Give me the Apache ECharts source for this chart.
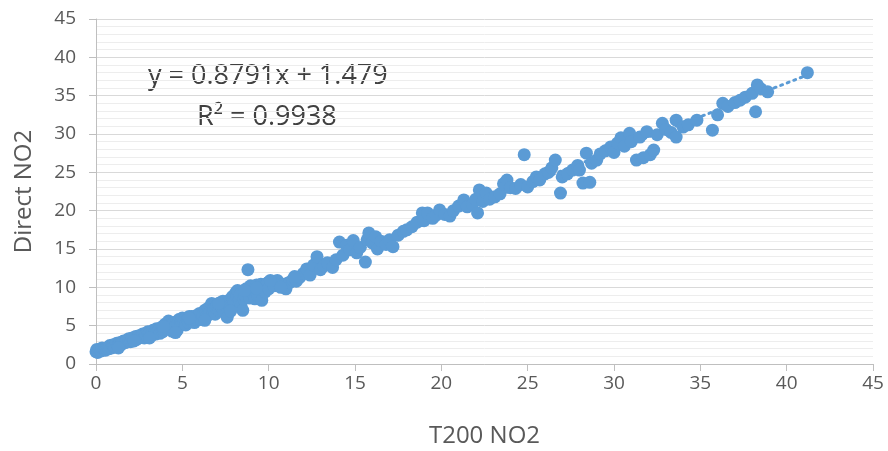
<!DOCTYPE html>
<html>
<head>
<meta charset="utf-8">
<script src="https://cdn.jsdelivr.net/npm/echarts@6/dist/echarts.min.js"></script>
<style>
    html, body { margin: 0; padding: 0; background: #fff; }
    #chartScatter { width: 888px; height: 451px; }
</style>
</head>
<body>
<div id="chartScatter"></div>
<script>
// T200 NO2 (x) vs Direct NO2 (y)
const t200No2 = [
    0.0, 0.05, 0.1, 0.15, 0.2, 0.3, 0.35, 0.45, 0.5, 0.55, 0.6, 0.7, 0.75, 0.8, 0.9, 0.95,
    1.0, 1.05, 1.1, 1.2, 1.25, 1.3, 1.4, 1.45, 1.5, 1.55, 1.6, 1.7, 1.75, 1.8, 1.9,
    2.0, 2.05, 2.1, 2.2, 2.3, 2.35, 2.4, 2.45, 2.5, 2.6, 2.65, 2.7, 2.8, 2.85, 2.9,
    3.0, 3.05, 3.1, 3.2, 3.25, 3.3, 3.4, 3.45, 3.5, 3.6, 3.65, 3.7, 3.8, 3.85, 3.9,
    4.0, 4.05, 4.1, 4.2, 4.25, 4.3, 4.4, 4.5, 4.55, 4.6, 4.7, 4.75, 4.8, 4.9, 4.95,
    5.0, 5.1, 5.15, 5.2, 5.3, 5.35, 5.4, 5.5, 5.55, 5.6, 5.7, 5.75, 5.8, 5.9, 5.95,
    6.0, 6.1, 6.15, 6.2, 6.3, 6.35, 6.4, 6.5, 6.55, 6.6, 6.7, 6.75, 6.8, 6.9, 6.95,
    7.0, 7.1, 7.15, 7.2, 7.3, 7.35, 7.4, 7.5, 7.55, 7.6, 7.7, 7.75, 7.8, 7.9, 7.95,
    8.0, 8.1, 8.15, 8.2, 8.3, 8.35, 8.4, 8.5, 8.55, 8.6, 8.7, 8.75, 8.8, 8.9, 8.95,
    9.0, 9.1, 9.15, 9.2, 9.3, 9.35, 9.4, 9.5, 9.55, 9.6, 9.7, 9.75, 9.8, 9.9, 9.95,
    10.0, 10.3, 10.5, 10.8, 11.0, 11.2, 11.4, 11.6, 11.8, 12.0, 12.2, 12.4, 12.6, 12.8,
    13.0, 13.2, 13.4, 13.7, 13.9, 14.1, 14.3, 14.5, 14.7, 14.9, 15.1, 15.3, 15.6, 15.7,
    15.8, 16.0, 16.2, 16.3, 16.5, 16.8, 17.0, 17.2, 17.5, 17.8, 18.0, 18.3, 18.6, 18.9,
    19.0, 19.2, 19.5, 19.7, 19.9, 20.2, 20.5, 20.7, 21.0, 21.3, 21.5, 21.8, 22.0, 22.1,
    22.2, 22.4, 22.6, 22.8, 23.1, 23.4, 23.6, 23.8, 24.0, 24.3, 24.6, 24.8, 25.0, 25.3,
    25.5, 25.7, 26.0, 26.2, 26.4, 26.6, 26.9, 27.0, 27.3, 27.6, 27.9, 28.0, 28.2, 28.4,
    28.6, 28.7, 29.0, 29.2, 29.5, 29.8, 30.0, 30.2, 30.4, 30.6, 30.9, 31.0, 31.3, 31.5,
    31.7, 31.9, 32.1, 32.3, 32.5, 32.8, 33.0, 33.3, 33.6, 33.6, 34.0, 34.3, 34.8, 35.7,
    36.0, 36.3, 36.6, 37.0, 37.3, 37.6, 38.0, 38.3, 38.2, 38.5, 38.9, 41.2,
    1.3, 2.2, 3.1, 3.9, 4.6, 5.4, 6.3, 7.1, 7.8, 8.6, 9.3, 10.1, 10.7, 11.5
];
const directNo2 = [
    1.6, 1.9, 1.5, 1.7, 1.8, 1.7, 2.1, 2.0, 1.9, 1.8, 2.0, 2.2, 2.0, 2.4, 2.1, 2.4,
    2.5, 2.2, 2.3, 2.7, 2.4, 2.5, 2.8, 2.6, 2.6, 2.9, 3.0, 2.8, 3.0, 3.1, 3.3,
    2.9, 3.1, 3.4, 3.2, 3.6, 3.2, 3.3, 3.5, 3.7, 3.5, 3.6, 3.9, 3.4, 3.7, 3.8,
    4.2, 3.8, 4.0, 3.7, 4.2, 4.4, 4.1, 3.9, 4.6, 4.3, 4.5, 4.0, 4.8, 4.2, 4.5,
    5.2, 4.8, 4.7, 5.6, 5.1, 4.9, 4.3, 5.4, 4.8, 5.0, 4.4, 5.2, 5.8, 5.3, 5.6,
    6.0, 5.5, 5.9, 5.1, 5.8, 5.4, 6.2, 5.6, 6.2, 6.0, 5.4, 5.8, 6.3, 6.0, 6.4,
    6.6, 5.8, 6.3, 6.4, 7.0, 6.6, 6.2, 7.3, 6.5, 6.7, 7.9, 7.0, 7.2, 6.5, 7.4,
    7.6, 7.0, 7.6, 8.0, 7.4, 8.2, 6.8, 7.7, 7.9, 6.1, 8.3, 7.6, 7.3, 8.8, 8.4,
    8.0, 9.3, 8.8, 9.6, 8.4, 9.1, 7.6, 7.0, 8.5, 9.0, 9.8, 9.4, 12.3, 8.6, 10.2,
    10.0, 9.2, 9.7, 8.5, 10.3, 9.0, 9.6, 8.8, 10.4, 8.3, 10.1, 9.9, 9.4, 10.5, 10.6,
    9.8, 10.2, 10.9, 10.4, 9.8, 10.6, 11.0, 10.8, 11.3, 11.8, 12.4, 11.6, 12.9, 14.0,
    12.3, 12.8, 13.2, 12.6, 13.6, 15.9, 14.2, 15.5, 14.9, 16.1, 14.5, 15.2, 13.3, 16.2,
    17.1, 15.8, 16.6, 15.0, 16.0, 15.6, 16.2, 15.3, 16.8, 17.3, 17.5, 17.9, 18.5, 19.7,
    18.7, 19.7, 19.0, 19.4, 20.1, 19.5, 19.3, 20.0, 20.6, 21.4, 20.5, 20.8, 21.5, 19.7,
    22.7, 21.2, 22.3, 21.5, 21.8, 22.2, 23.5, 24.0, 23.0, 22.9, 23.4, 27.3, 23.1, 23.8,
    24.4, 24.0, 24.8, 25.0, 25.6, 26.6, 22.3, 24.4, 24.8, 25.3, 25.9, 25.3, 23.6, 27.5,
    23.7, 26.2, 26.6, 27.4, 27.8, 28.3, 27.6, 28.8, 29.5, 28.4, 30.1, 29.0, 26.6, 29.6,
    26.9, 30.3, 27.3, 27.9, 29.9, 31.4, 30.6, 30.2, 31.8, 29.6, 30.9, 31.2, 31.8, 30.5,
    32.5, 34.0, 33.6, 34.1, 34.4, 34.8, 35.3, 36.4, 32.9, 35.9, 35.5, 38.0,
    2.1, 3.0, 3.4, 4.9, 4.1, 6.0, 5.7, 7.9, 6.9, 9.6, 9.9, 10.9, 10.0, 11.4
];

// linear trendline (from the reference)
const trendSlope = 0.8791;
const trendIntercept = 1.479;
const trendR2 = 0.9938;

const axisTicks = [0, 5, 10, 15, 20, 25, 30, 35, 40, 45];

const chartDom = document.getElementById('chartScatter');
const scatterChart = echarts.init(chartDom);

const points = t200No2.map((x, i) => [x, directNo2[i]]);
const xMin = Math.min(...t200No2);
const xMax = Math.max(...t200No2);
const trendData = [
    [xMin, trendSlope * xMin + trendIntercept],
    [xMax, trendSlope * xMax + trendIntercept],
];

const labelColor = '#595959';
const fontFamily = 'Open Sans';

const option = {
    animation: false,
    textStyle: { fontFamily: fontFamily },
    grid: { left: 96, right: 15, top: 19, bottom: 87, outerBoundsMode: 'none' },
    xAxis: {
        type: 'value',
        min: axisTicks[0],
        max: axisTicks[axisTicks.length - 1],
        interval: 5,
        name: 'T200 NO2',
        nameLocation: 'middle',
        nameGap: 60,
        nameTextStyle: { fontSize: 24, color: labelColor, fontFamily: fontFamily },
        axisLine: { show: true, lineStyle: { color: '#bfbfbf', width: 1 } },
        axisTick: { show: true, length: 7, lineStyle: { color: '#bfbfbf' } },
        axisLabel: { fontSize: 19, color: labelColor, margin: 10 },
        splitLine: { show: false },
    },
    yAxis: {
        type: 'value',
        min: axisTicks[0],
        max: axisTicks[axisTicks.length - 1],
        interval: 5,
        name: 'Direct NO2',
        nameLocation: 'middle',
        nameGap: 60,
        nameTextStyle: { fontSize: 24, color: labelColor, fontFamily: fontFamily },
        axisLine: { show: true, lineStyle: { color: '#bfbfbf', width: 1 } },
        axisTick: { show: true, length: 7, lineStyle: { color: '#bfbfbf' } },
        axisLabel: { fontSize: 19, color: labelColor, margin: 20 },
        splitLine: { show: true, lineStyle: { color: '#d9d9d9', width: 1 } },
        minorTick: { show: false, splitNumber: 5 },
        minorSplitLine: { show: true, lineStyle: { color: '#ededed', width: 1 } },
    },
    graphic: [
        {
            type: 'text',
            left: 148,
            top: 63,
            style: {
                text: `y = ${trendSlope}x + ${trendIntercept}`,
                fontSize: 27,
                fontFamily: fontFamily,
                fill: '#404040',
            },
        },
        {
            type: 'text',
            left: 197,
            top: 104,
            style: {
                text: `R² = ${trendR2}`,
                fontSize: 27,
                fontFamily: fontFamily,
                fill: '#404040',
            },
        },
    ],
    series: [
        {
            name: 'Linear',
            type: 'line',
            data: trendData,
            showSymbol: false,
            symbol: 'none',
            lineStyle: { color: '#5b9bd5', width: 3, type: [2, 5], cap: 'round' },
            z: 1,
        },
        {
            name: 'Direct NO2',
            type: 'scatter',
            symbol: 'circle',
            symbolSize: 13,
            itemStyle: { color: '#5b9bd5', opacity: 1 },
            data: points,
            z: 2,
        },
    ],
};

scatterChart.setOption(option);
</script>
</body>
</html>
